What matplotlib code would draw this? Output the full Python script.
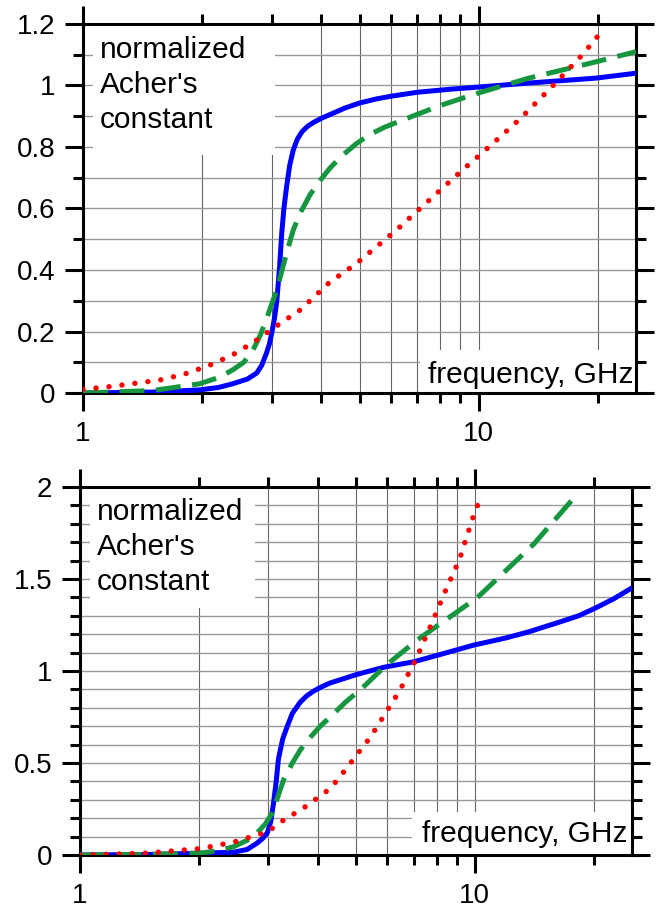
import matplotlib
matplotlib.use("Agg")
import matplotlib.pyplot as plt
from matplotlib.patches import Rectangle

plt.rcParams['font.family'] = ['Liberation Sans', 'DejaVu Sans']

# ==========================================
# Data
# ==========================================

# top panel
top_blue_f = [1.0, 1.5, 1.97, 2.2, 2.39, 2.6, 2.75, 2.83, 2.91, 2.96, 3.0, 3.05, 3.09, 3.14, 3.18, 3.22,
              3.27, 3.33, 3.40, 3.48, 3.58, 3.70, 3.85, 4.0, 4.2, 4.6, 5.0, 5.5, 6.0, 7.0, 8.5, 10.0,
              13.4, 19.8, 25.0]
top_blue = [0.0, 0.003, 0.01, 0.018, 0.03, 0.045, 0.065, 0.09, 0.13, 0.16, 0.195, 0.245, 0.30, 0.41,
            0.52, 0.60, 0.67, 0.74, 0.79, 0.825, 0.85, 0.868, 0.882, 0.893, 0.905, 0.927, 0.943, 0.956,
            0.965, 0.978, 0.988, 0.995, 1.008, 1.024, 1.04]

top_green_f = [1.0, 1.5, 1.97, 2.2, 2.39, 2.55, 2.69, 2.8, 2.91, 3.0, 3.09, 3.27, 3.4, 3.54, 3.75,
               3.97, 4.2, 4.5, 4.9, 5.3, 5.8, 6.8, 8.0, 9.95, 13.4, 19.8, 25.0]
top_green = [0.0, 0.008, 0.03, 0.05, 0.075, 0.10, 0.14, 0.185, 0.24, 0.29, 0.335, 0.455, 0.53, 0.585,
             0.645, 0.69, 0.73, 0.77, 0.81, 0.84, 0.865, 0.90, 0.935, 0.975, 1.024, 1.077, 1.11]

top_red_f = [1.0, 1.157, 1.345, 1.56, 1.80, 2.07, 2.39, 2.7, 3.02, 3.54, 4.2, 4.9, 6.2, 7.4, 9.1, 10.2,
             12.7, 15.7, 18.3, 20.3]
top_red = [0.012, 0.02, 0.031, 0.042, 0.061, 0.088, 0.124, 0.165, 0.21, 0.27, 0.36, 0.42, 0.53, 0.62,
           0.725, 0.78, 0.89, 1.01, 1.10, 1.17]

top_yticks = [0, 0.2, 0.4, 0.6, 0.8, 1.0, 1.2]
top_ylabels = ['0', '0.2', '0.4', '0.6', '0.8', '1', '1.2']

# bottom panel
bot_blue_f = [1.0, 1.5, 2.02, 2.45, 2.65, 2.81, 2.9, 2.98, 3.04, 3.09, 3.14, 3.18, 3.26, 3.35, 3.45,
              3.61, 3.75, 3.9, 4.1, 4.3, 4.6, 5.0, 5.87, 7.0, 8.5, 9.9, 12.0, 13.8, 15.0, 16.5,
              18.3, 20.1, 22.5, 25.0]
bot_blue = [0.0, 0.003, 0.01, 0.015, 0.03, 0.065, 0.09, 0.12, 0.18, 0.28, 0.40, 0.52, 0.63, 0.70, 0.77,
            0.83, 0.865, 0.89, 0.915, 0.935, 0.955, 0.98, 1.02, 1.05, 1.10, 1.14, 1.18, 1.215, 1.24,
            1.268, 1.30, 1.34, 1.393, 1.452]

bot_green_f = [1.0, 1.5, 2.02, 2.25, 2.45, 2.65, 2.81, 2.95, 3.07, 3.28, 3.45, 3.61, 3.85, 4.06, 4.3,
               4.7, 5.2, 5.95, 7.16, 10.16, 14.1, 17.8]
bot_green = [0.0, 0.003, 0.01, 0.025, 0.045, 0.08, 0.12, 0.17, 0.23, 0.41, 0.50, 0.57, 0.645, 0.70, 0.75,
             0.83, 0.91, 1.03, 1.17, 1.40, 1.69, 1.94]

bot_red_f = [1.0, 1.48, 2.02, 2.45, 2.98, 3.28, 3.68, 4.31, 4.66, 5.45, 6.45, 7.08, 7.81, 8.44,
             9.13, 9.87, 10.36]
bot_red = [0.0, 0.01, 0.035, 0.07, 0.125, 0.19, 0.255, 0.362, 0.453, 0.643, 0.893, 1.06, 1.268, 1.44,
           1.603, 1.83, 1.947]

bot_yticks = [0, 0.5, 1.0, 1.5, 2.0]
bot_ylabels = ['0', '0.5', '1', '1.5', '2']

x_major = [1, 10]
x_major_labels = ['1', '10']
x_minor = [2, 3, 4, 5, 6, 7, 8, 9, 20]

y_label_text = "normalized\nAcher's\nconstant"
x_label_text = "frequency, GHz"

BLUE = '#0000ff'
GREEN = '#15963f'
RED = '#ff0000'


# ==========================================
# Plotting Helper
# ==========================================

def setup_panel(ax, ymax, yticks, ylabels, name_box, name_lines, freq_box, freq_pos):
    ax.set_xscale('log')
    ax.set_xlim(1, 25)
    ax.set_ylim(0, ymax)

    ax.set_xticks(x_major, x_major_labels)
    ax.set_xticks(x_minor, minor=True)
    ax.set_xticklabels([], minor=True)
    ax.set_yticks(yticks, ylabels)
    minor_y = [round(0.1 * i, 1) for i in range(int(round(ymax * 10)) + 1)]
    ax.set_yticks(minor_y, minor=True)

    ax.tick_params(which='major', direction='out', length=13, width=2.2,
                   top=True, right=True, labelsize=20, pad=7)
    ax.tick_params(which='minor', direction='out', length=7, width=2.2,
                   top=True, right=True)
    for s in ax.spines.values():
        s.set_linewidth(2.2)

    ax.set_axisbelow(True)
    ax.grid(True, which='both', axis='y', color='#999999', lw=1.0)
    ax.grid(True, which='both', axis='x', color='#666666', lw=0.8)

    # white boxes behind the labels
    x0, y0, x1, y1 = name_box
    ax.add_patch(Rectangle((x0, y0), x1 - x0, y1 - y0, transform=ax.transAxes,
                           facecolor='white', edgecolor='none', zorder=1.5))
    x0, y0, x1, y1 = freq_box
    ax.add_patch(Rectangle((x0, y0), x1 - x0, y1 - y0, transform=ax.transAxes,
                           facecolor='white', edgecolor='none', zorder=1.5))

    for (tx, ty), line in zip(name_lines, y_label_text.split("\n")):
        ax.text(tx, ty, line, transform=ax.transAxes, fontsize=21.5,
                ha='left', va='baseline', zorder=2)
    ax.text(freq_pos[0], freq_pos[1], x_label_text, transform=ax.transAxes,
            fontsize=21.5, ha='right', va='baseline', zorder=2)


def draw_curves(ax, fb, b, fg, g, fr, r):
    ax.plot(fb, b, color=BLUE, lw=3.6, solid_joinstyle='round', zorder=3)
    ax.plot(fg, g, color=GREEN, lw=3.6, linestyle=(0, (5, 2.3)),
            dash_capstyle='butt', zorder=3)
    ax.plot(fr, r, color=RED, lw=3.9, linestyle=(0, (0.01, 2.4)),
            dash_capstyle='round', zorder=3)


# ==========================================
# Create Plots
# ==========================================

fig = plt.figure(figsize=(6.6, 9.14), dpi=100)

ax1 = fig.add_axes([83 / 660, 1 - 393 / 914, 553 / 660, 369 / 914])
setup_panel(ax1, 1.2, top_yticks, top_ylabels,
            name_box=(0.018, 0.645, 0.347, 1.0),
            name_lines=[(0.031, 0.908), (0.031, 0.813), (0.031, 0.718)],
            freq_box=(0.609, 0.0, 1.0, 0.117),
            freq_pos=(0.995, 0.027))
draw_curves(ax1, top_blue_f, top_blue, top_green_f, top_green, top_red_f, top_red)

ax2 = fig.add_axes([80 / 660, 1 - 855 / 914, 552 / 660, 368 / 914])
setup_panel(ax2, 2.0, bot_yticks, bot_ylabels,
            name_box=(0.018, 0.671, 0.317, 1.0),
            name_lines=[(0.031, 0.910), (0.031, 0.815), (0.031, 0.720)],
            freq_box=(0.601, 0.0, 1.0, 0.117),
            freq_pos=(0.991, 0.035))
draw_curves(ax2, bot_blue_f, bot_blue, bot_green_f, bot_green, bot_red_f, bot_red)

fig.savefig("out.png", dpi=100)
